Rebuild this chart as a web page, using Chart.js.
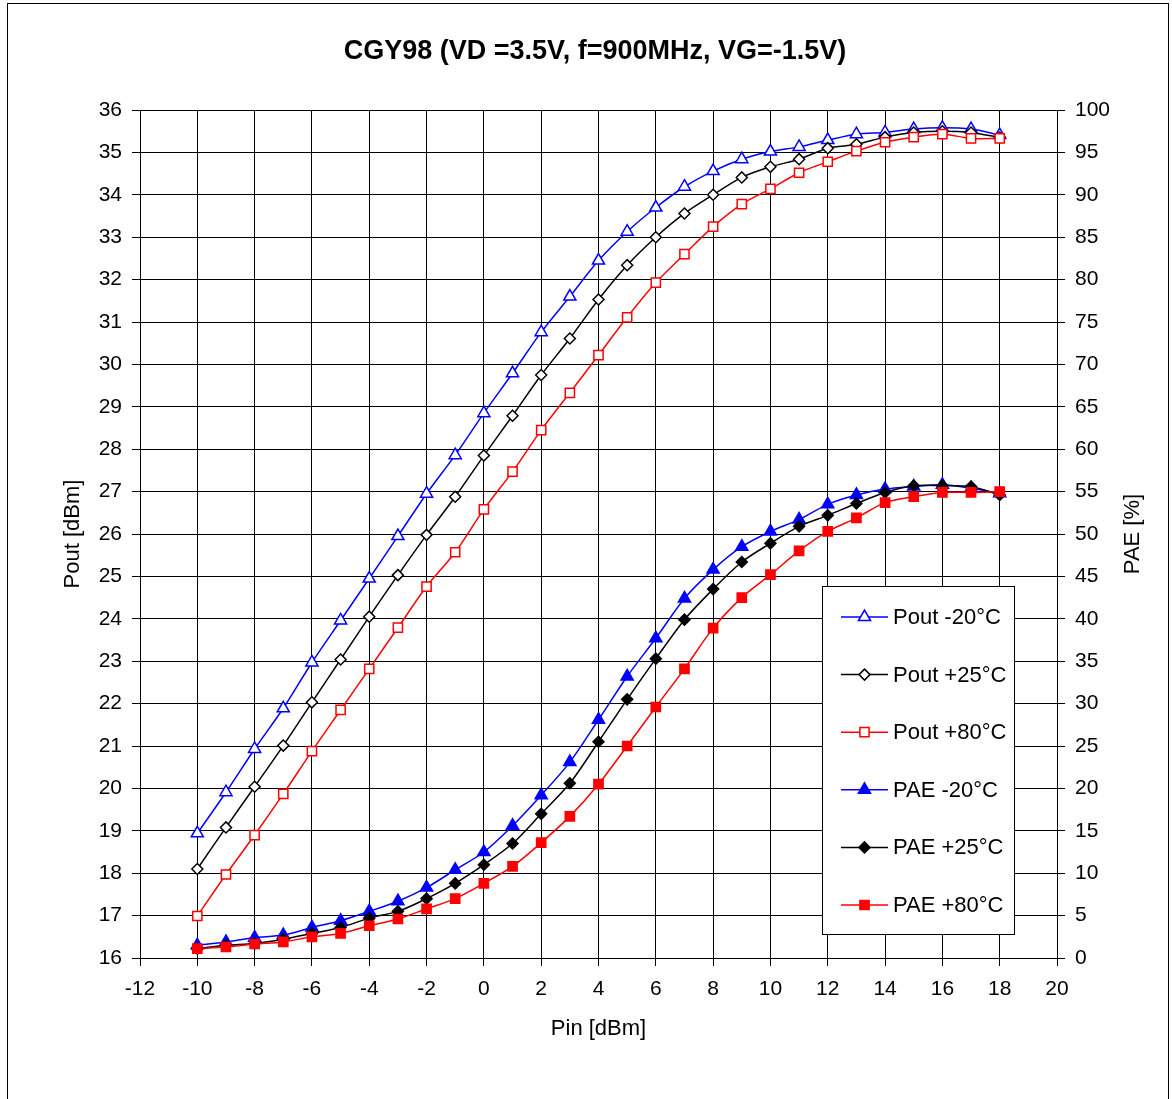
<!DOCTYPE html>
<html>
<head>
<meta charset="utf-8">
<script src="https://cdn.jsdelivr.net/npm/chart.js@4/dist/chart.umd.min.js"></script>
<style>
  html, body { margin: 0; padding: 0; background: #fff; }
  #wrap { position: relative; width: 1172px; height: 1099px; overflow: hidden; }
  #frame { position: absolute; left: 7px; top: 3px; width: 1162px; height: 1200px; border: 1px solid #000; box-sizing: border-box; }
  canvas { position: absolute; left: 0; top: 0; }
</style>
</head>
<body>
<div id="wrap">
  <div id="frame"></div>
  <canvas id="c" width="1172" height="1099"></canvas>
</div>
<script>
// ---------- data ----------
const pin = [-10,-9,-8,-7,-6,-5,-4,-3,-2,-1,0,1,2,3,4,5,6,7,8,9,10,11,12,13,14,15,16,17,18];
const poutM20 = [18.94,19.91,20.93,21.89,22.97,23.96,24.95,25.95,26.95,27.86,28.85,29.79,30.76,31.60,32.45,33.13,33.70,34.19,34.56,34.84,35.02,35.13,35.29,35.43,35.47,35.55,35.58,35.55,35.41];
const pout25  = [18.10,19.08,20.04,21.01,22.03,23.04,24.05,25.03,25.98,26.88,27.85,28.79,29.75,30.61,31.53,32.34,33.00,33.56,34.00,34.41,34.66,34.84,35.10,35.19,35.36,35.47,35.50,35.47,35.35];
const pout80  = [16.99,17.97,18.90,19.87,20.88,21.85,22.82,23.79,24.76,25.57,26.58,27.47,28.45,29.33,30.22,31.11,31.93,32.60,33.25,33.78,34.14,34.52,34.78,35.03,35.24,35.36,35.43,35.33,35.33];
const paeM20  = [1.5,1.9,2.4,2.7,3.6,4.4,5.5,6.7,8.3,10.4,12.5,15.6,19.2,23.1,28.1,33.2,37.7,42.4,45.8,48.5,50.3,51.7,53.5,54.6,55.3,55.6,55.8,55.4,54.8];
const pae25   = [1.1,1.5,1.7,2.2,2.9,3.6,4.7,5.5,7.0,8.8,11.0,13.5,17.0,20.6,25.5,30.5,35.3,39.9,43.5,46.7,48.9,50.9,52.2,53.6,54.9,55.7,55.7,55.6,54.6];
const pae80   = [1.1,1.3,1.65,1.9,2.5,2.9,3.8,4.6,5.8,7.0,8.8,10.8,13.6,16.7,20.5,25.0,29.6,34.1,38.9,42.5,45.2,48.0,50.3,51.9,53.7,54.4,54.9,54.9,55.0];

const seriesLabels = ['Pout -20°C','Pout +25°C','Pout +80°C','PAE -20°C','PAE +25°C','PAE +80°C'];
const titleText = 'CGY98 (VD =3.5V, f=900MHz, VG=-1.5V)';
const xTitle = 'Pin [dBm]';
const yTitle = 'Pout [dBm]';
const y2Title = 'PAE [%]';

// ---------- styles ----------
const FONT = "'Liberation Sans', Arial, Helvetica, sans-serif";
const BLUE = '#0000FF', BLACK = '#000000', RED = '#FF0000';

function pts(arr) { return arr.map((v, i) => ({ x: pin[i], y: v })); }

function ds(label, data, color, style, radius, filled, axis, order) {
  return {
    label, data: pts(data), yAxisID: axis, order,
    borderColor: color, backgroundColor: filled ? color : '#FFFFFF',
    pointBorderColor: color, pointBackgroundColor: filled ? color : '#FFFFFF',
    pointStyle: style, pointRadius: radius, pointHoverRadius: radius,
    pointBorderWidth: 1.5, borderWidth: 1.5, tension: 0.3, fill: false
  };
}

const datasets = [
  ds(seriesLabels[0], poutM20, BLUE, 'triangle', 7, false, 'y', 6),
  ds(seriesLabels[1], pout25, BLACK, 'rectRot', 5.5, false, 'y', 5),
  ds(seriesLabels[2], pout80, RED, 'rect', 6.5, false, 'y', 4),
  ds(seriesLabels[3], paeM20, BLUE, 'triangle', 7, true, 'y2', 3),
  ds(seriesLabels[4], pae25, BLACK, 'rectRot', 5.5, true, 'y2', 2),
  ds(seriesLabels[5], pae80, RED, 'rect', 6.5, true, 'y2', 1)
];

// layout (pixels)
const TITLE = { x: 595, y: 52, size: 27 };
const LEG = { left: 822, top: 586, width: 192, height: 348, firstRow: 31, rowGap: 57.6,
              lineFrom: 19, lineTo: 66, textAt: 71, fontSize: 22 };

const customPlugin = {
  id: 'custom',
  afterDraw(chart) {
    const ctx = chart.ctx;
    const area = chart.chartArea;
    // chart title
    ctx.save();
    ctx.fillStyle = '#000';
    ctx.font = 'bold ' + TITLE.size + 'px ' + FONT;
    ctx.textAlign = 'center';
    ctx.textBaseline = 'middle';
    ctx.fillText(titleText, TITLE.x, TITLE.y);
    ctx.restore();

    // right axis title, rotated like the left one
    ctx.save();
    ctx.fillStyle = '#000';
    ctx.font = '22px ' + FONT;
    ctx.textAlign = 'center';
    ctx.textBaseline = 'middle';
    ctx.translate(chart.width - 39, (area.top + area.bottom) / 2);
    ctx.rotate(-Math.PI / 2);
    ctx.fillText(y2Title, 0, 0);
    ctx.restore();

    // legend
    ctx.save();
    ctx.fillStyle = '#FFFFFF';
    ctx.fillRect(LEG.left, LEG.top, LEG.width, LEG.height);
    ctx.strokeStyle = '#000';
    ctx.lineWidth = 1;
    ctx.strokeRect(LEG.left + 0.5, LEG.top + 0.5, LEG.width, LEG.height);
    chart.data.datasets.forEach((d, i) => {
      const y = LEG.top + LEG.firstRow + i * LEG.rowGap;
      const x0 = LEG.left + LEG.lineFrom, x1 = LEG.left + LEG.lineTo;
      ctx.strokeStyle = d.borderColor;
      ctx.lineWidth = 1.5;
      ctx.beginPath(); ctx.moveTo(x0, y); ctx.lineTo(x1, y); ctx.stroke();
      ctx.fillStyle = d.pointBackgroundColor;
      ctx.strokeStyle = d.pointBorderColor;
      ctx.lineWidth = 1.5;
      Chart.helpers.drawPoint(ctx, { pointStyle: d.pointStyle, radius: d.pointRadius, rotation: 0, borderWidth: 1.5 }, (x0 + x1) / 2, y);
      ctx.fillStyle = '#000';
      ctx.font = LEG.fontSize + 'px ' + FONT;
      ctx.textAlign = 'left';
      ctx.textBaseline = 'middle';
      ctx.fillText(d.label, LEG.left + LEG.textAt, y + 1);
    });
    ctx.restore();
  }
};

const tickFont = { family: FONT, size: 21 };
const titleFont = { family: FONT, size: 22 };

new Chart(document.getElementById('c'), {
  type: 'line',
  data: { datasets },
  options: {
    responsive: false,
    animation: false,
    devicePixelRatio: 1,
    layout: { padding: { top: 110, left: 0, right: 0, bottom: 0 } },
    plugins: {
      legend: { display: false },
      tooltip: { enabled: false },
      title: { display: false }
    },
    scales: {
      x: {
        type: 'linear', position: 'bottom', min: -12, max: 20,
        ticks: { stepSize: 2, color: '#000', font: tickFont, padding: 11, maxRotation: 0, autoSkip: false },
        grid: { color: '#000', lineWidth: 1, tickLength: 8, tickColor: '#000' },
        border: { color: '#000', width: 1 },
        title: { display: true, text: xTitle, color: '#000', font: titleFont, padding: { top: 0, bottom: 57 } },
        afterFit(s) { s.height = 141; }
      },
      y: {
        type: 'linear', position: 'left', min: 16, max: 36,
        ticks: { stepSize: 1, color: '#000', font: tickFont, padding: 10 },
        grid: { color: '#000', lineWidth: 1, tickLength: 8, tickColor: '#000' },
        border: { color: '#000', width: 1 },
        title: { display: true, text: yTitle, color: '#000', font: titleFont, padding: { top: 60, bottom: 0 } },
        afterFit(s) { s.width = 140; }
      },
      y2: {
        type: 'linear', position: 'right', min: 0, max: 100,
        ticks: { stepSize: 5, color: '#000', font: tickFont, padding: 10 },
        grid: { drawOnChartArea: false, tickLength: 8, tickColor: '#000' },
        border: { color: '#000', width: 1 },
        afterFit(s) { s.width = 115; }
      }
    }
  },
  plugins: [customPlugin]
});
</script>
</body>
</html>
